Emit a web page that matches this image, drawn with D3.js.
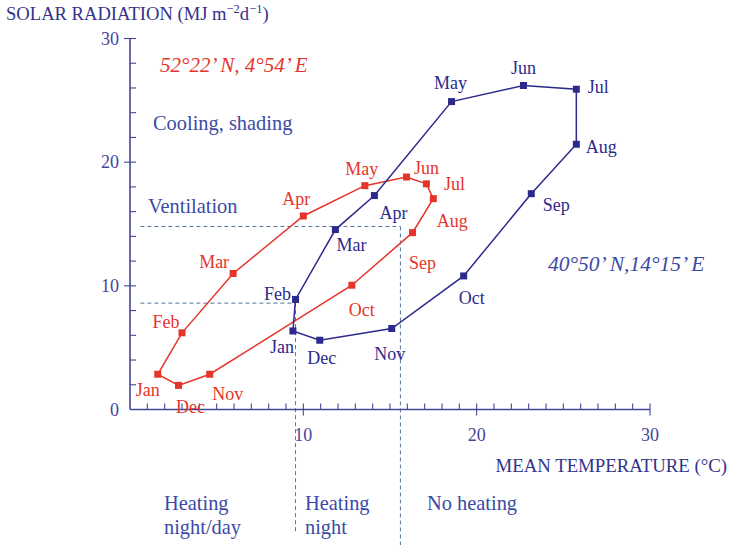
<!DOCTYPE html>
<html>
<head>
<meta charset="utf-8">
<script src="https://cdn.jsdelivr.net/npm/d3@7"></script>
<style>
  html, body { margin: 0; padding: 0; background: #fff; }
  svg { display: block; font-family: "Liberation Serif", "Times New Roman", serif; }
</style>
</head>
<body>
<div id="chart"></div>
<script>
// ---------- data ----------
const months = ["Jan","Feb","Mar","Apr","May","Jun","Jul","Aug","Sep","Oct","Nov","Dec"];

// 52°22' N, 4°54' E (red)
const northTemp = [1.6, 3.0, 5.95, 10.0, 13.55, 15.95, 17.1, 17.5, 16.3, 12.8, 4.6, 2.8];
const northRad  = [2.85, 6.2, 11.0, 15.65, 18.1, 18.8, 18.25, 17.05, 14.3, 10.05, 2.85, 1.95];

// 40°50' N, 14°15' E (blue)
const southTemp = [9.4, 9.55, 11.85, 14.1, 18.55, 22.7, 25.75, 25.75, 23.15, 19.25, 15.1, 10.95];
const southRad  = [6.35, 8.9, 14.55, 17.3, 24.9, 26.2, 25.9, 21.45, 17.45, 10.8, 6.55, 5.6];

const xTicks = [10, 20, 30];
const yTicks = [0, 10, 20, 30];

// thresholds of the heating / ventilation zones
const zoneTemps = [9.55, 15.6];   // heating night | no heating
const zoneRads  = [8.6, 14.8];    // ventilation levels

// ---------- layout / style ----------
const W = 731, H = 545;
const x = d3.scaleLinear().domain([0, 30]).range([130, 650]);
const y = d3.scaleLinear().domain([0, 30]).range([409.5, 38.5]);

const RED = "#e5352b", NAVY = "#2c2a8c", AXIS = "#45459a", TXT = "#3a4aa6", DASH = "#557399";

// label offsets in pixels (dx, dy) relative to each marker
const northOff = [[-10,15],[-16,-11],[-19,-12],[-7,-17],[-3,-17],[20,-9],[28,0],[19,22],[10,30],[10,24],[18,19],[12,21]];
const southOff = [[-11,16],[-18,-6],[16,15],[19,17],[-1,-19],[0,-18],[22,-3],[25,2],[25,11],[8,22],[-2,25],[2,17]];

const svg = d3.select("#chart").append("svg").attr("width", W).attr("height", H);

// dashed zone lines
const dashG = svg.append("g").attr("stroke", DASH).attr("stroke-width", 1).attr("stroke-dasharray", "4,3").attr("fill", "none");
dashG.append("line").attr("x1", x(0.6)).attr("x2", x(zoneTemps[1])).attr("y1", y(zoneRads[1])).attr("y2", y(zoneRads[1]));
dashG.append("line").attr("x1", x(zoneTemps[1])).attr("x2", x(zoneTemps[1])).attr("y1", y(zoneRads[1])).attr("y2", 545);
dashG.append("line").attr("x1", x(0.6)).attr("x2", x(zoneTemps[0])).attr("y1", y(zoneRads[0])).attr("y2", y(zoneRads[0]));
dashG.append("line").attr("x1", x(zoneTemps[0])).attr("x2", x(zoneTemps[0])).attr("y1", y(zoneRads[0])).attr("y2", 533);

// axes
const axG = svg.append("g").attr("stroke", AXIS).attr("stroke-width", 1.6);
axG.append("line").attr("x1", x(0)).attr("x2", x(30)).attr("y1", y(0)).attr("y2", y(0));
axG.append("line").attr("x1", x(0)).attr("x2", x(0)).attr("y1", y(0)).attr("y2", y(30));
// x ticks: minor every 1, major at 10s
d3.range(1, 31).forEach(v => {
  const major = v % 10 === 0;
  axG.append("line").attr("stroke-width", 1.1)
    .attr("x1", x(v)).attr("x2", x(v))
    .attr("y1", y(0) - 6).attr("y2", major ? y(0) + 6 : y(0));
});
// y ticks: minor every 2, major at 10s
d3.range(2, 31, 2).forEach(v => {
  const major = v % 10 === 0;
  axG.append("line").attr("stroke-width", 1.1)
    .attr("y1", y(v)).attr("y2", y(v))
    .attr("x1", major ? x(0) - 6 : x(0)).attr("x2", x(0) + 6);
});

const tickG = svg.append("g").attr("fill", AXIS).attr("font-size", 18);
tickG.selectAll("text.xt").data(xTicks).join("text")
  .attr("x", d => x(d)).attr("y", 441).attr("text-anchor", "middle").text(d => d);
tickG.selectAll("text.yt").data(yTicks).join("text")
  .attr("x", x(0) - 11).attr("y", d => y(d)).attr("dy", "0.35em").attr("text-anchor", "end").text(d => d);

// series
function drawSeries(temps, rads, offs, color) {
  const pts = temps.map((t, i) => [x(t), y(rads[i])]);
  svg.append("path")
    .attr("d", d3.line().curve(d3.curveLinearClosed)(pts))
    .attr("fill", "none").attr("stroke", color).attr("stroke-width", 1.5);
  svg.append("g").selectAll("rect").data(pts).join("rect")
    .attr("x", d => d[0] - 3.5).attr("y", d => d[1] - 3.5)
    .attr("width", 7).attr("height", 7).attr("fill", color);
  svg.append("g").selectAll("text").data(pts).join("text")
    .attr("x", (d, i) => d[0] + offs[i][0]).attr("y", (d, i) => d[1] + offs[i][1])
    .attr("dy", "0.35em").attr("text-anchor", "middle")
    .attr("font-size", 18).attr("fill", color)
    .text((d, i) => months[i]);
}
drawSeries(northTemp, northRad, northOff, RED);
drawSeries(southTemp, southRad, southOff, NAVY);

// titles and annotations
const title = svg.append("text").attr("x", 6).attr("y", 20).attr("font-size", 18.6).attr("fill", "#33338a");
title.append("tspan").text("SOLAR RADIATION (MJ m");
title.append("tspan").attr("font-size", 12.5).attr("dy", -7).text("−2");
title.append("tspan").attr("dy", 7).text("d");
title.append("tspan").attr("font-size", 12.5).attr("dy", -7).text("−1");
title.append("tspan").attr("dy", 7).text(")");

svg.append("text").attr("x", 727).attr("y", 472).attr("text-anchor", "end")
  .attr("font-size", 18.8).attr("fill", "#33338a")
  .text("MEAN TEMPERATURE (°C)");

svg.append("text").attr("x", 160).attr("y", 72).attr("font-size", 21).attr("font-style", "italic")
  .attr("fill", RED).text("52°22’ N, 4°54’ E");
svg.append("text").attr("x", 548).attr("y", 271).attr("font-size", 21.5).attr("font-style", "italic")
  .attr("fill", TXT).text("40°50’ N,14°15’ E");

const ann = svg.append("g").attr("font-size", 20.4).attr("fill", TXT);
ann.append("text").attr("x", 153).attr("y", 130).text("Cooling, shading");
ann.append("text").attr("x", 148).attr("y", 213).text("Ventilation");
ann.append("text").attr("x", 164).attr("y", 510).text("Heating");
ann.append("text").attr("x", 164).attr("y", 534).text("night/day");
ann.append("text").attr("x", 305).attr("y", 510).text("Heating");
ann.append("text").attr("x", 305).attr("y", 534).text("night");
ann.append("text").attr("x", 427).attr("y", 510).text("No heating");
</script>
</body>
</html>
